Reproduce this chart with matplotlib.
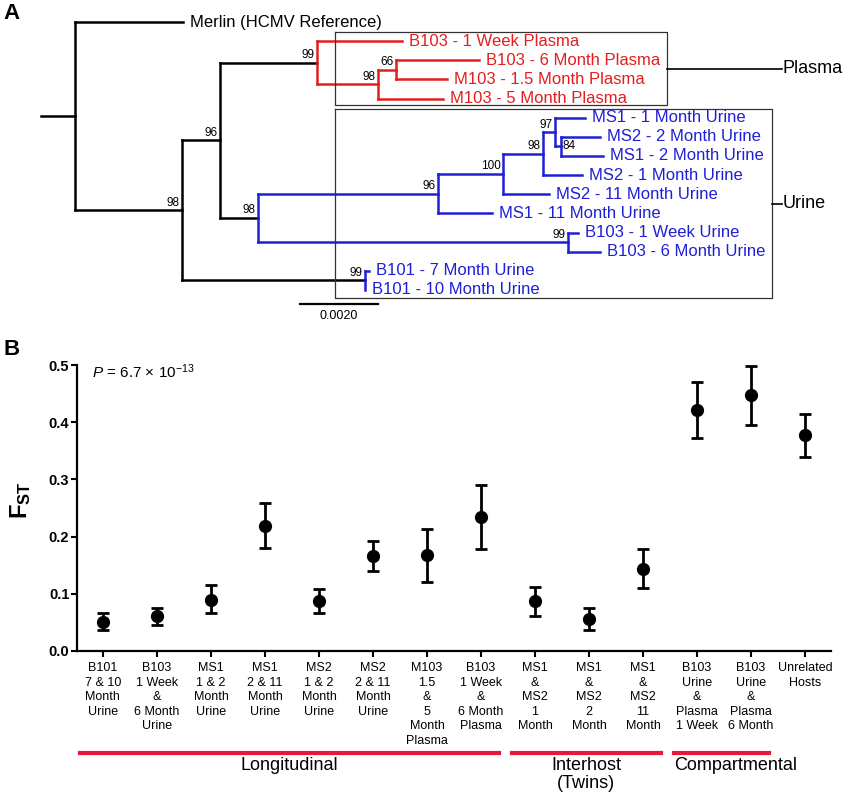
import numpy as np
import matplotlib
matplotlib.use("Agg")
import matplotlib.pyplot as plt

plt.rcParams['font.family'] = ['Liberation Sans', 'DejaVu Sans']
plt.rcParams['mathtext.fontset'] = 'custom'
plt.rcParams['mathtext.rm'] = 'Liberation Sans'
plt.rcParams['mathtext.it'] = 'Liberation Sans:italic'
plt.rcParams['mathtext.bf'] = 'Liberation Sans:bold'

RED = '#e41e1e'
BLUE = '#1f1fd6'
GROUP_RED = '#e8173c'

# ---------------- panel A data : tree as a parent table ----------------
tree_nodes = ['root', 'merlin', 'n1', 'n2', 'plasma', 'p_b103_1w', 'p98', 'p66',
              'p_b103_6m', 'p_m103_15', 'p_m103_5', 'urine', 'u96', 'u100', 'u98',
              'u97', 'u_ms1_1', 'u84', 'u_ms2_2', 'u_ms1_2', 'u_ms2_1', 'u_ms2_11',
              'u_ms1_11', 'u99', 'u_b103_1w', 'u_b103_6m', 'b101', 'u_b101_7', 'u_b101_10']
tree_parent = [None, 'root', 'root', 'n1', 'n2', 'plasma', 'plasma', 'p98',
               'p66', 'p66', 'p98', 'n2', 'urine', 'u96', 'u100',
               'u98', 'u97', 'u97', 'u84', 'u84', 'u98', 'u100',
               'u96', 'urine', 'u99', 'u99', 'n1', 'b101', 'b101']
branch_len = [0.00087, 0.00277, 0.00274, 0.00097, 0.00249, 0.00218, 0.00156, 0.00046,
              0.00215, 0.00131, 0.00167, 0.00097, 0.00462, 0.00167, 0.00103,
              0.00031, 0.00077, 0.00015, 0.00100, 0.00108, 0.00100, 0.00118,
              0.00138, 0.00795, 0.00028, 0.00082, 0.00469, 0.00010, 0.0]
bootstrap = [None, None, 98, 96, 99, None, 98, 66,
             None, None, None, 98, 96, 100, 98,
             97, None, 84, None, None, None, None,
             None, 99, None, None, 99, None, None]
tip_labels = {
    'merlin': 'Merlin (HCMV Reference)',
    'p_b103_1w': 'B103 - 1 Week Plasma',
    'p_b103_6m': 'B103 - 6 Month Plasma',
    'p_m103_15': 'M103 - 1.5 Month Plasma',
    'p_m103_5': 'M103 - 5 Month Plasma',
    'u_ms1_1': 'MS1 - 1 Month Urine',
    'u_ms2_2': 'MS2 - 2 Month Urine',
    'u_ms1_2': 'MS1 - 2 Month Urine',
    'u_ms2_1': 'MS2 - 1 Month Urine',
    'u_ms2_11': 'MS2 - 11 Month Urine',
    'u_ms1_11': 'MS1 - 11 Month Urine',
    'u_b103_1w': 'B103 - 1 Week Urine',
    'u_b103_6m': 'B103 - 6 Month Urine',
    'u_b101_7': 'B101 - 7 Month Urine',
    'u_b101_10': 'B101 - 10 Month Urine',
}
clade_colors = {'plasma': RED, 'urine': BLUE, 'b101': BLUE}
scale_bar_len = 0.0020

# ---------------- panel B data ----------------
pair_labels = [
    "B101\n7 & 10\nMonth\nUrine",
    "B103\n1 Week\n&\n6 Month\nUrine",
    "MS1\n1 & 2\nMonth\nUrine",
    "MS1\n2 & 11\nMonth\nUrine",
    "MS2\n1 & 2\nMonth\nUrine",
    "MS2\n2 & 11\nMonth\nUrine",
    "M103\n1.5\n&\n5\nMonth\nPlasma",
    "B103\n1 Week\n&\n6 Month\nPlasma",
    "MS1\n&\nMS2\n1\nMonth",
    "MS1\n&\nMS2\n2\nMonth",
    "MS1\n&\nMS2\n11\nMonth",
    "B103\nUrine\n&\nPlasma\n1 Week",
    "B103\nUrine\n&\nPlasma\n6 Month",
    "Unrelated\nHosts",
]
fst_mean = [0.051, 0.061, 0.090, 0.219, 0.087, 0.166, 0.167, 0.234, 0.087, 0.056, 0.143, 0.421, 0.447, 0.377]
fst_low = [0.037, 0.045, 0.066, 0.180, 0.066, 0.140, 0.120, 0.178, 0.062, 0.037, 0.110, 0.372, 0.395, 0.340]
fst_high = [0.066, 0.075, 0.116, 0.258, 0.109, 0.193, 0.214, 0.290, 0.112, 0.076, 0.178, 0.470, 0.499, 0.414]
group_names = ['Longitudinal', 'Interhost\n(Twins)', 'Compartmental']
group_first = [0, 8, 11]
group_last = [7, 10, 12]

fig = plt.figure(figsize=(8.5, 8), dpi=100)

# ================= panel A =================
ax_t = fig.add_axes([0, 1 - 330 / 800, 1, 330 / 800])
PX = scale_bar_len / 78.0     # tree units per pixel
DY = 1 / 19.14                # leaf rows per pixel
ax_t.set_xlim(-75 * PX, 775 * PX)
ax_t.set_ylim(308 * DY, -22 * DY)
ax_t.axis('off')

idx = {n: i for i, n in enumerate(tree_nodes)}
children = {n: [] for n in tree_nodes}
for n, p in zip(tree_nodes, tree_parent):
    if p is not None:
        children[p].append(n)

depth, ypos, color = {}, {}, {}
leaf_count = [0]


def layout(n, d, col):
    depth[n] = d
    color[n] = clade_colors.get(n, col)
    kids = children[n]
    if not kids:
        ypos[n] = leaf_count[0]
        leaf_count[0] += 1
    else:
        for k in kids:
            layout(k, d + branch_len[idx[k]], color[n])
        ypos[n] = np.mean([ypos[k] for k in kids])


layout('root', 0.0, 'black')

lw = 1.8
# root stub
ax_t.plot([-branch_len[0], 0], [ypos['root']] * 2, color='black', lw=lw, solid_capstyle='projecting')
for n, p in zip(tree_nodes, tree_parent):
    if p is not None:
        ax_t.plot([depth[p], depth[n]], [ypos[n]] * 2, color=color[p], lw=lw,
                  solid_capstyle='projecting')
    kids = children[n]
    if kids:
        ys = [ypos[k] for k in kids]
        ax_t.plot([depth[n]] * 2, [min(ys), max(ys)], color=color[n], lw=lw,
                  solid_capstyle='projecting')
    else:
        ax_t.text(depth[n] + 7 * PX, ypos[n], tip_labels[n], color=color[n],
                  fontsize=12, va='center', ha='left')
    bs = bootstrap[idx[n]]
    if bs is not None:
        if n == 'u84':
            ax_t.text(depth[n] + 2 * PX, ypos[n], str(bs), fontsize=8.5, ha='left', va='center')
        else:
            ax_t.text(depth[n] - 2 * PX, ypos[n] - 4.5 * DY, str(bs), fontsize=8.5,
                      ha='right', va='baseline')

# boxes around plasma / urine clades
plasma_rows = [ypos[n] for n in tip_labels if color[n] == RED]
urine_rows = [ypos[n] for n in tip_labels if color[n] == BLUE]
box_left = 260 * PX
p_box = (min(plasma_rows) - 0.48, max(plasma_rows) + 0.34, 592 * PX)
u_box = (min(urine_rows) - 0.45, max(urine_rows) + 0.42, 697 * PX)
brk_x = 707 * PX
for (y0, y1, xr), name in zip([p_box, u_box], ['Plasma', 'Urine']):
    ax_t.plot([box_left, xr, xr, box_left, box_left], [y0, y0, y1, y1, y0],
              color='#333333', lw=0.9)
    ym = (y0 + y1) / 2
    ax_t.plot([xr, brk_x], [ym, ym], color='black', lw=1.2)
    ax_t.text(brk_x + 1 * PX, ym, name, fontsize=13, va='center', ha='left')

# scale bar
sb_x0 = 225 * PX
sb_y = 282 * DY
ax_t.plot([sb_x0, sb_x0 + scale_bar_len], [sb_y, sb_y], color='black', lw=1.6)
ax_t.text(sb_x0 + scale_bar_len / 2, sb_y + 12 * DY, '%.4f' % scale_bar_len,
          fontsize=9, ha='center', va='center')

fig.text(12 / 850, 1 - 13.5 / 800, 'A', fontsize=16, fontweight='bold', va='center', ha='center')
fig.text(12 / 850, 1 - 349.5 / 800, 'B', fontsize=16, fontweight='bold', va='center', ha='center')

# ================= panel B =================
ax = fig.add_axes([77 / 850, 1 - 651 / 800, (831 - 77) / 850, (651 - 365) / 800])
x = np.arange(len(fst_mean))
mean = np.array(fst_mean)
err = [mean - np.array(fst_low), np.array(fst_high) - mean]
ax.errorbar(x, mean, yerr=err, fmt='o', color='black', ms=8.5, elinewidth=2,
            capsize=4, capthick=2, clip_on=False)
ax.set_xlim(-0.48, 13.48)
ax.set_ylim(0, 0.5)
ax.set_yticks([0.0, 0.1, 0.2, 0.3, 0.4, 0.5])
ax.set_yticklabels(['0.0', '0.1', '0.2', '0.3', '0.4', '0.5'], fontweight='bold', fontsize=10.5)
ax.set_xticks(x)
ax.set_xticklabels(pair_labels, fontsize=9, linespacing=1.28, multialignment='center')
ax.tick_params(axis='x', length=4, width=1.5, pad=4)
ax.tick_params(axis='y', length=4, width=1.5, pad=1.5)
for s in ['top', 'right']:
    ax.spines[s].set_visible(False)
for s in ['left', 'bottom']:
    ax.spines[s].set_linewidth(1.6)

ax.text(0.02, 0.975, r'$\mathit{P}$ = 6.7 $\times$ 10$^{-13}$', transform=ax.transAxes,
        fontsize=11, va='center', ha='left')
fig.text(21 / 850, 1 - 500 / 800, r'$\mathbf{F_{ST}}$', rotation=90, fontsize=17,
         va='center', ha='center')

# group brackets
trans = ax.get_xaxis_transform()
for name, a, b in zip(group_names, group_first, group_last):
    x0, x1 = a - 0.43, b + 0.33
    ax.plot([x0, x1], [-0.357, -0.357], color=GROUP_RED, lw=3, transform=trans, clip_on=False)
    if name == 'Compartmental':
        ax.text(x0, -0.37, name, transform=trans, ha='left', va='top', fontsize=13)
    else:
        ax.text((x0 + x1) / 2, -0.37, name, transform=trans, ha='center', va='top',
                fontsize=13, linespacing=1.1, multialignment='center')

fig.savefig('out.png', dpi=100)
